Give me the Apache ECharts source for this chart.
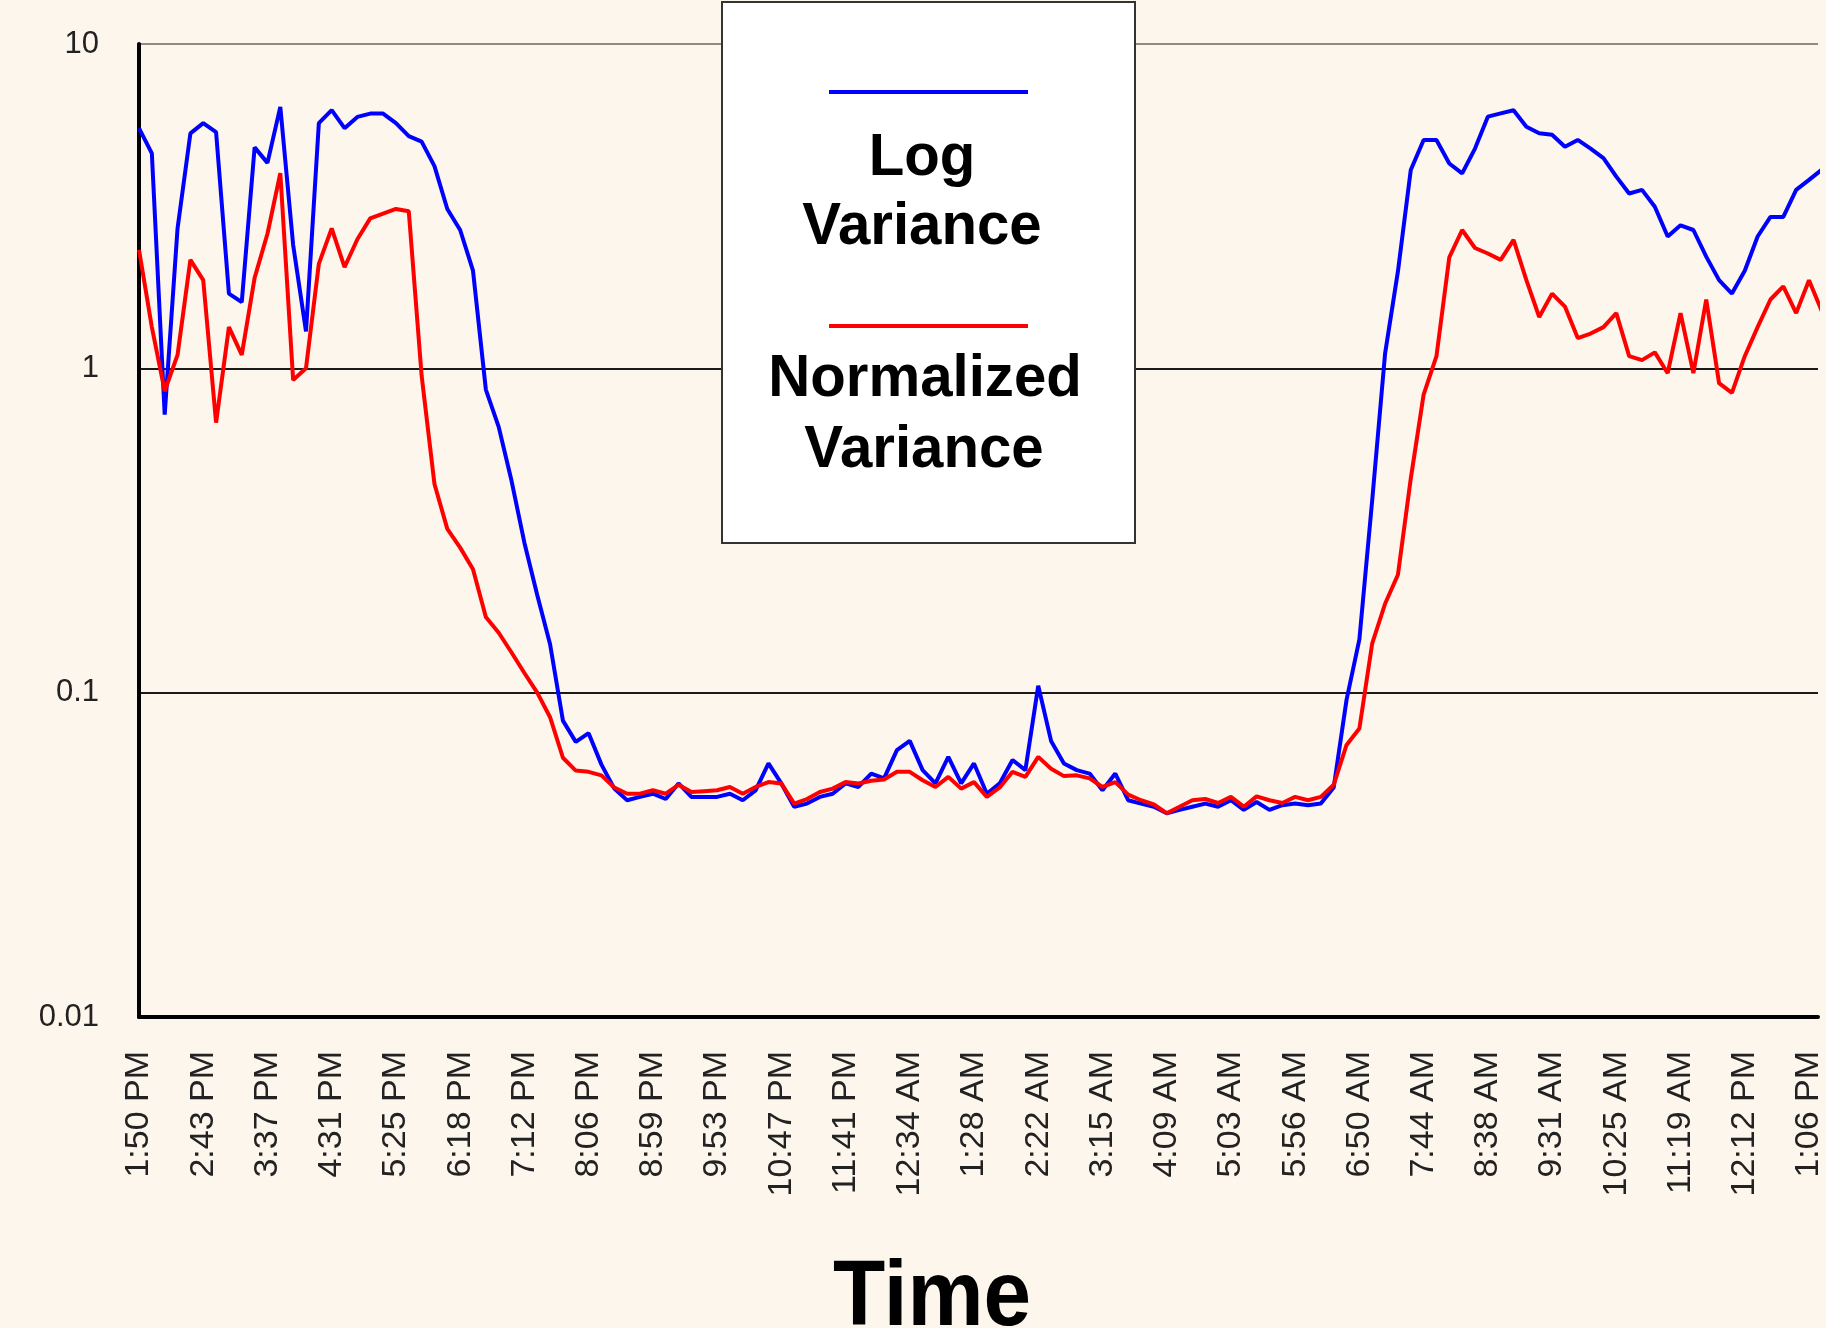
<!DOCTYPE html>
<html>
<head>
<meta charset="utf-8">
<title>Log Variance vs Normalized Variance</title>
<script src="https://cdn.jsdelivr.net/npm/echarts@6/dist/echarts.min.js"></script>
<style>
  html, body { margin: 0; padding: 0; background: #fdf6ec; }
  #chart { width: 1826px; height: 1328px; }
</style>
</head>
<body>
<div id="chart"></div>
<script>
// labelled times on the x axis, one every 5 samples
const tickLabels = ['1:50 PM', '2:43 PM', '3:37 PM', '4:31 PM', '5:25 PM', '6:18 PM', '7:12 PM',
  '8:06 PM', '8:59 PM', '9:53 PM', '10:47 PM', '11:41 PM', '12:34 AM', '1:28 AM', '2:22 AM',
  '3:15 AM', '4:09 AM', '5:03 AM', '5:56 AM', '6:50 AM', '7:44 AM', '8:38 AM', '9:31 AM',
  '10:25 AM', '11:19 AM', '12:12 PM', '1:06 PM'];
const samplesPerTick = 5;

// values, one per sample
const logVariance = [
  5.5, 4.6, 0.72, 2.7, 5.3, 5.7, 5.35, 1.7, 1.6, 4.8,
  4.3, 6.4, 2.4, 1.3, 5.7, 6.25, 5.5, 5.96, 6.1, 6.1,
  5.7, 5.2, 5.0, 4.2, 3.1, 2.67, 2.0, 0.86, 0.66, 0.45,
  0.29, 0.2, 0.141, 0.082, 0.0705, 0.075, 0.06, 0.0506, 0.0466, 0.0477,
  0.0488, 0.047, 0.0525, 0.0477, 0.0477, 0.0477, 0.0488, 0.0466, 0.05, 0.0605,
  0.0525, 0.0445, 0.0455, 0.0477, 0.0488, 0.0525, 0.0512, 0.0563, 0.0544, 0.0665,
  0.071, 0.0577, 0.0525, 0.0634, 0.0525, 0.0605, 0.0488, 0.0525, 0.062, 0.0577,
  0.105, 0.071, 0.0605, 0.0577, 0.0563, 0.05, 0.0563, 0.0466, 0.0455, 0.0445,
  0.0425, 0.0435, 0.0445, 0.0455, 0.0445, 0.0466, 0.0435, 0.046, 0.0435, 0.045,
  0.0455, 0.045, 0.0455, 0.051, 0.095, 0.146, 0.393, 1.11, 1.99, 4.09,
  5.06, 5.06, 4.28, 3.99, 4.76, 5.97, 6.11, 6.25, 5.56, 5.31,
  5.25, 4.82, 5.06, 4.76, 4.45, 3.9, 3.46, 3.55, 3.15, 2.55,
  2.76, 2.67, 2.21, 1.87, 1.7, 2.0, 2.55, 2.93, 2.93, 3.55,
  3.81, 4.1
];
const normalizedVariance = [
  2.32, 1.34, 0.85, 1.1, 2.16, 1.87, 0.68, 1.34, 1.1, 1.9,
  2.6, 4.0, 0.92, 1.0, 2.1, 2.7, 2.05, 2.5, 2.9, 3.0,
  3.1, 3.05, 0.95, 0.44, 0.32, 0.28, 0.24, 0.171, 0.153, 0.133,
  0.115, 0.1, 0.084, 0.063, 0.0575, 0.057, 0.0556, 0.051, 0.0488, 0.0488,
  0.05, 0.0488, 0.052, 0.0494, 0.0497, 0.05, 0.0512, 0.0488, 0.0512, 0.053,
  0.0525, 0.0455, 0.047, 0.0494, 0.0506, 0.053, 0.0525, 0.0535, 0.054, 0.057,
  0.057, 0.0537, 0.0512, 0.055, 0.0506, 0.053, 0.0477, 0.051, 0.057, 0.055,
  0.0634, 0.0583, 0.0553, 0.0556, 0.0544, 0.0512, 0.053, 0.0485, 0.0466, 0.0452,
  0.0425, 0.0445, 0.0466, 0.047, 0.0457, 0.0477, 0.0445, 0.0479, 0.0466, 0.0457,
  0.0477, 0.0466, 0.0477, 0.052, 0.069, 0.0775, 0.142, 0.188, 0.231, 0.457,
  0.83, 1.09, 2.2, 2.67, 2.35, 2.26, 2.16, 2.49, 1.87, 1.44,
  1.7, 1.55, 1.24, 1.28, 1.34, 1.48, 1.09, 1.06, 1.12, 0.966,
  1.48, 0.966, 1.63, 0.9, 0.84, 1.09, 1.34, 1.63, 1.79, 1.48,
  1.87, 1.5
];

const chart = echarts.init(document.getElementById('chart'));

const toPairs = arr => arr.map((v, i) => [i, v]);

const legendFont = { fontFamily: 'Liberation Sans', fontWeight: 'bold', fontSize: 60, fill: '#000', align: 'center', verticalAlign: 'middle' };

const option = {
  backgroundColor: '#fdf6ec',
  animation: false,
  grid: { left: 139, right: 0, top: 44, bottom: 311 },
  xAxis: {
    type: 'value',
    min: 0,
    max: 130.7,
    interval: samplesPerTick,
    axisLine: { lineStyle: { color: '#000', width: 4 } },
    axisTick: { show: false },
    splitLine: { show: false },
    axisLabel: {
      rotate: 90,
      margin: 34,
      showMaxLabel: false,
      fontFamily: 'Liberation Sans',
      fontSize: 34,
      color: '#222',
      formatter: function (v) {
        const k = v / samplesPerTick;
        if (Math.abs(k - Math.round(k)) > 1e-6) return '';
        return tickLabels[Math.round(k)] || '';
      }
    }
  },
  yAxis: {
    type: 'log',
    logBase: 10,
    min: 0.01,
    max: 10,
    axisLine: { show: true, lineStyle: { color: '#000', width: 4 } },
    axisTick: { show: false },
    splitLine: {
      show: true,
      lineStyle: { color: ['#1a1a1a', '#1a1a1a', '#1a1a1a', '#8f8a84'], width: 2 }
    },
    axisLabel: {
      margin: 40,
      fontFamily: 'Liberation Sans',
      fontSize: 31,
      color: '#222'
    }
  },
  series: [
    {
      name: 'Log Variance',
      type: 'line',
      data: toPairs(logVariance),
      showSymbol: false,
      lineStyle: { color: '#0000ff', width: 4 },
      z: 2
    },
    {
      name: 'Normalized Variance',
      type: 'line',
      data: toPairs(normalizedVariance),
      showSymbol: false,
      lineStyle: { color: '#ff0000', width: 4 },
      z: 3
    }
  ],
  graphic: [
    {
      type: 'rect', z: 100,
      shape: { x: 722, y: 2, width: 413, height: 541 },
      style: { fill: '#ffffff', stroke: '#333', lineWidth: 2 }
    },
    {
      type: 'line', z: 101,
      shape: { x1: 829, y1: 92, x2: 1028, y2: 92 },
      style: { stroke: '#0000ff', lineWidth: 4 }
    },
    {
      type: 'line', z: 101,
      shape: { x1: 829, y1: 326, x2: 1028, y2: 326 },
      style: { stroke: '#ff0000', lineWidth: 4 }
    },
    { type: 'text', z: 101, x: 922, y: 158, scaleX: 0.97, style: Object.assign({ text: 'Log' }, legendFont) },
    { type: 'text', z: 101, x: 922, y: 227, scaleX: 0.97, style: Object.assign({ text: 'Variance' }, legendFont) },
    { type: 'text', z: 101, x: 925, y: 379, scaleX: 0.97, style: Object.assign({ text: 'Normalized' }, legendFont) },
    { type: 'text', z: 101, x: 924, y: 450, scaleX: 0.97, style: Object.assign({ text: 'Variance' }, legendFont) },
    {
      type: 'text', z: 101, x: 932, y: 1300, scaleX: 0.93,
      style: { text: 'Time', fontFamily: 'Liberation Sans', fontWeight: 'bold', fontSize: 92, fill: '#000', align: 'center', verticalAlign: 'middle' }
    }
  ]
};

chart.setOption(option);
</script>
</body>
</html>
